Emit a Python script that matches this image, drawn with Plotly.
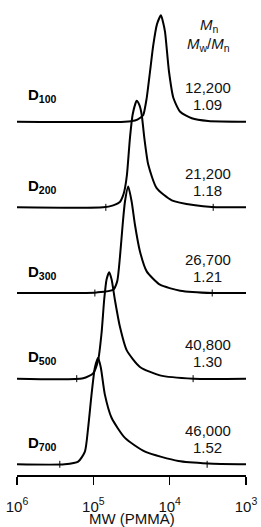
import plotly.graph_objects as go

# ---------------- data ----------------
samples = ["D<sub>100</sub>", "D<sub>200</sub>", "D<sub>300</sub>", "D<sub>500</sub>", "D<sub>700</sub>"]
mn_values = ["12,200", "21,200", "26,700", "40,800", "46,000"]
pdi_values = ["1.09", "1.18", "1.21", "1.30", "1.52"]

tick_vals = [1e6, 1e5, 1e4, 1e3]
tick_text = ["10<sup>6</sup>", "10<sup>5</sup>", "10<sup>4</sup>", "10<sup>3</sup>"]
x_title = "MW (PMMA)"

mw_d100 = [1000000, 38600, 28500, 24500, 22200, 20000, 18100, 16400, 14650, 13000, 12200, 11500, 10200, 8930, 7290, 5130, 3130, 1000]
int_d100 = [0, 0, 0.011, 0.035, 0.063, 0.222, 0.469, 0.719, 0.916, 1.0, 0.934, 0.843, 0.469, 0.222, 0.094, 0.032, 0.007, 0]

mw_d200 = [1000000, 74300, 54900, 44900, 40600, 38500, 36300, 33100, 30500, 27100, 24900, 23300, 21500, 19050, 14800, 9380, 4630, 2800, 1000]
int_d200 = [0, 0, 0.019, 0.050, 0.114, 0.180, 0.304, 0.655, 0.874, 1.0, 0.959, 0.874, 0.655, 0.399, 0.180, 0.066, 0.019, 0.003, 0]

mw_d300 = [1000000, 150000, 90800, 54900, 48700, 44900, 41300, 38500, 34900, 31500, 28500, 24500, 20000, 13400, 7290, 2690, 1000]
int_d300 = [0, 0, 0.005, 0.031, 0.109, 0.331, 0.641, 0.859, 1.0, 0.859, 0.641, 0.390, 0.203, 0.078, 0.022, 0, 0]

mw_d500 = [1000000, 136000, 100700, 86500, 78000, 72100, 67100, 62000, 57600, 52200, 44900, 36600, 24500, 13400, 4880, 1000]
int_d500 = [0, 0.003, 0.050, 0.173, 0.429, 0.741, 0.931, 1.0, 0.931, 0.741, 0.489, 0.268, 0.110, 0.031, 0, 0]

mw_d700 = [1000000, 237000, 158000, 129000, 117000, 105600, 95500, 86500, 79700, 70600, 57700, 38500, 21000, 7690, 3130, 1000]
int_d700 = [0, 0, 0.025, 0.119, 0.342, 0.654, 0.906, 1.0, 0.906, 0.654, 0.437, 0.248, 0.119, 0.031, 0.008, 0]

# integration limit marks (MW) on each trace
limits_d100 = []
limits_d200 = [68600, 2690]
limits_d300 = [95500, 2770]
limits_d500 = [165000, 4930]
limits_d700 = [275000, 3230]

traces_mw = [mw_d100, mw_d200, mw_d300, mw_d500, mw_d700]
traces_int = [int_d100, int_d200, int_d300, int_d500, int_d700]
traces_lim = [limits_d100, limits_d200, limits_d300, limits_d500, limits_d700]

# ---------------- layout constants ----------------
FONT = "Liberation Sans, Arial, sans-serif"
Y_TOP = 475.0          # plot height in y units
BASE0 = 10.7           # baseline of lowest trace
STEP = 85.65           # vertical spacing between traces
PEAK = 106.5           # peak height

fig = go.Figure()
n = len(samples)
for i in range(n):
    base = BASE0 + (n - 1 - i) * STEP
    ys = [base + v * PEAK for v in traces_int[i]]
    fig.add_trace(go.Scatter(
        x=traces_mw[i], y=ys, mode="lines",
        line=dict(color="black", width=2, shape="spline", smoothing=0.6),
        showlegend=False, hoverinfo="skip", cliponaxis=False))
    if traces_lim[i]:
        fig.add_trace(go.Scatter(
            x=traces_lim[i], y=[base] * len(traces_lim[i]), mode="markers",
            marker=dict(symbol="line-ns", size=5, line=dict(color="black", width=1)),
            showlegend=False, hoverinfo="skip", cliponaxis=False))

annotations = []
label_dy = [26, 21, 21, 21, 21]
for i in range(n):
    base = BASE0 + (n - 1 - i) * STEP
    annotations.append(dict(
        x=0.04, xref="paper", y=base + label_dy[i], yref="y",
        text="<b>" + samples[i] + "</b>", showarrow=False,
        xanchor="left", yanchor="middle",
        font=dict(family=FONT, size=15, color="black")))
    annotations.append(dict(
        x=0.833, xref="paper", y=base + 34, yref="y",
        text=mn_values[i], showarrow=False, xanchor="center", yanchor="middle",
        font=dict(family=FONT, size=15, color="#111")))
    annotations.append(dict(
        x=0.833, xref="paper", y=base + 17, yref="y",
        text=pdi_values[i], showarrow=False, xanchor="center", yanchor="middle",
        font=dict(family=FONT, size=15, color="#111")))

annotations.append(dict(
    x=0.84, xref="paper", y=450, yref="y",
    text="<i>M</i><sub>n</sub>", showarrow=False, xanchor="center", yanchor="middle",
    font=dict(family=FONT, size=15, color="#111")))
annotations.append(dict(
    x=0.835, xref="paper", y=430.5, yref="y",
    text="<i>M</i><sub>w</sub>/<i>M</i><sub>n</sub>", showarrow=False,
    xanchor="center", yanchor="middle",
    font=dict(family=FONT, size=15, color="#111")))
# x-axis title
annotations.append(dict(
    x=0.5, xref="paper", y=-0.0926, yref="paper",
    text=x_title, showarrow=False, xanchor="center", yanchor="middle",
    font=dict(family=FONT, size=15, color="#111")))

fig.update_layout(
    width=261, height=527,
    margin=dict(l=17, r=15, t=0, b=52),
    paper_bgcolor="white", plot_bgcolor="white",
    font=dict(family=FONT, size=15, color="black"),
    annotations=annotations,
    xaxis=dict(
        type="log", range=[6, 3],
        showline=True, linecolor="black", linewidth=1.5,
        ticks="outside", ticklen=8, tickwidth=1.5, tickcolor="black",
        tickvals=tick_vals, ticktext=tick_text, ticklabelstandoff=9,
        tickfont=dict(family=FONT, size=15, color="#111"),
        showgrid=False, zeroline=False,
    ),
    yaxis=dict(visible=False, range=[0, Y_TOP], fixedrange=True),
)

fig.write_html(
    "out.html",
    config={"displayModeBar": False, "staticPlot": True},
    post_script="document.body.style.margin='0';document.body.style.overflow='hidden';",
)
